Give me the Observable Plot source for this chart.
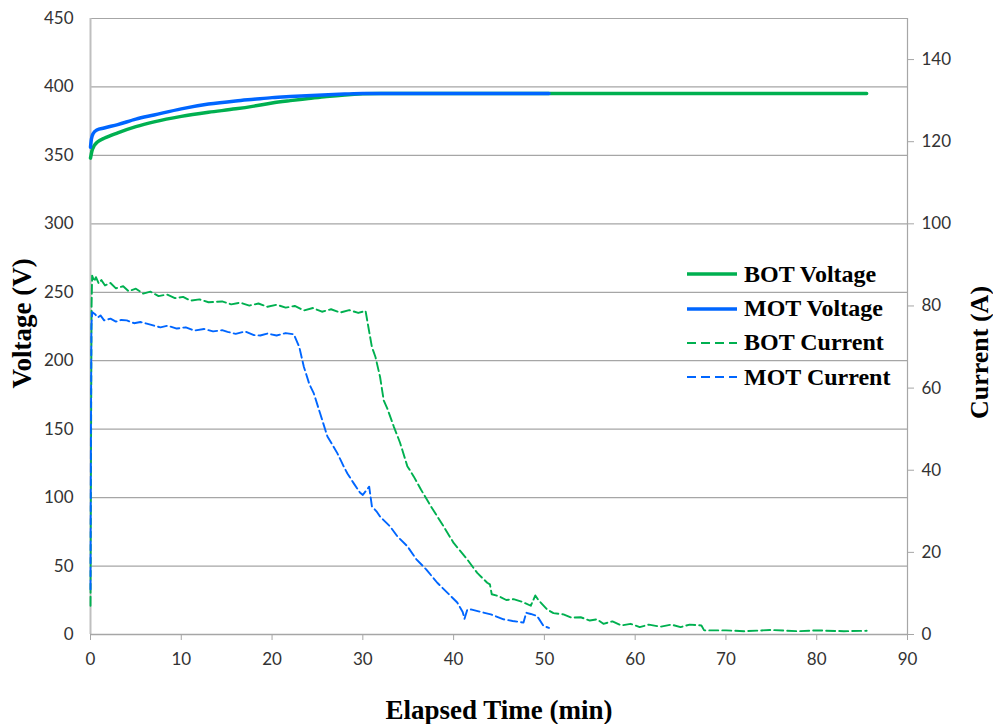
<!DOCTYPE html>
<html>
<head>
<meta charset="utf-8">
<script src="https://cdn.jsdelivr.net/npm/d3@7"></script>
<script src="https://cdn.jsdelivr.net/npm/@observablehq/plot@0.6"></script>
<style>
  body { margin: 0; background: #fff; }
  #wrap { position: relative; width: 993px; height: 724px; }
  #legend { position: absolute; left: 686px; top: 257px; font-family: "Liberation Serif", serif; font-weight: bold; font-size: 24px; color: #000; }
  #legend .row { display: flex; align-items: center; height: 34.4px; }
  #legend svg { margin-right: 6px; }
</style>
</head>
<body>
<div id="wrap"></div>
<script>
// BOT / MOT voltage: [minutes, volts]
const botVoltage = [[0,348],[0.15,353],[0.4,357],[0.8,360],[1.5,362.5],[3,366.5],[5,371],[7,374.5],[10,378.5],[13,381.5],[16,384],[18,386],[20,388.3],[22,390],[24,391.5],[26,393],[28,394.2],[30,395],[32,395.3],[45,395.3],[60,395.3],[75,395.3],[85.5,395.3]];
const motVoltage = [[0,356],[0.1,362],[0.3,366],[0.7,368.5],[1.5,370],[3,372.5],[5,376.5],[7,379.5],[10,384],[13,387.5],[16,389.8],[18,391],[20,392.2],[22,393],[25,394],[28,394.8],[30,395.2],[40,395.3],[50.5,395.3]];
// BOT / MOT current: [minutes, amps]
const botCurrent = [[0,7],[0.05,40],[0.12,80],[0.18,87.4],[0.4,86],[0.6,87],[0.9,85.5],[1.2,86.3],[1.6,85],[2.2,85.6],[2.8,84.3],[3.6,84.8],[4.2,83.6],[5,84.2],[5.8,83],[6.6,83.5],[7.5,82.4],[8.4,82.8],[9.3,81.9],[10.2,82.2],[11,81.3],[12,81.6],[13,80.9],[14.5,81.1],[15.5,80.4],[16.5,80.8],[17.5,80.1],[18.5,80.6],[19.5,79.8],[20.5,80.3],[21.5,79.6],[22.5,80],[23.5,78.9],[24.5,79.5],[25.5,78.6],[26.5,79.2],[27.5,78.4],[28.5,79],[29.5,78.3],[30.3,78.8],[30.6,75],[31,70],[31.4,67.5],[31.9,62.7],[32.3,57],[32.7,55],[33.4,50.7],[34.1,46.7],[34.9,41],[35.6,38.5],[36.4,35.3],[37.5,31.2],[38.9,26.3],[40,22.3],[41.5,18.3],[42.6,15],[43.7,12.6],[44,12.2],[44.2,9.8],[45,9.3],[45.8,8.4],[46.6,8.6],[47.5,8],[48.5,7],[49,9.5],[49.3,8.5],[50.3,6.1],[51,5.2],[52.1,4.9],[53,4.1],[54,4.2],[55,3.4],[55.8,3.7],[56.5,2.6],[57.5,3.2],[58.5,2.2],[59.5,2.6],[60.5,1.8],[61.5,2.4],[62.8,1.9],[64,2.4],[65,1.8],[66,2.4],[67.3,2.2],[67.6,1.0],[70,1.0],[72,0.8],[75,1.1],[78,0.8],[80,1.0],[83,0.8],[85.5,0.9]];
const motCurrent = [[0,11],[0.05,50],[0.1,75],[0.18,78.5],[0.5,78],[0.8,77.2],[1.1,77.7],[1.5,76.5],[2.2,76.9],[2.8,76.2],[3.4,76.6],[4,76.5],[4.8,75.8],[5.5,76.1],[6.2,75.7],[7,75.2],[7.7,74.8],[8.5,75.2],[9.5,74.5],[10.5,74.8],[11.4,74],[12.5,74.4],[13.5,73.8],[14.5,74.1],[15.1,73.7],[16,73.2],[17,73.8],[18,72.9],[18.7,72.8],[19.5,73.3],[20.5,72.8],[21.5,73.4],[22.4,73.1],[23,70],[23.5,65.2],[24.1,61],[24.6,58.7],[25.3,53.8],[26.1,48.2],[26.7,46],[27.2,44.1],[27.9,40.9],[28.3,39.2],[29,36.8],[29.7,34.5],[30,34],[30.7,36],[31,31.2],[31.5,30],[31.9,28.7],[33,26.3],[33.8,23.9],[34.9,21.5],[35.9,18.3],[37,15.8],[38.2,12.6],[39.3,10.2],[40.4,7.8],[41,5.5],[41.2,3.8],[41.5,6],[41.9,6.1],[43,5.5],[44.1,4.9],[45.5,3.7],[46.5,3.3],[47.7,2.9],[48,5.3],[48.5,5],[49.2,4.5],[49.9,2.1],[50.5,1.6]];

const voltageTicks = [0,50,100,150,200,250,300,350,400,450];
const currentTicks = [0,20,40,60,80,100,120,140];
const timeTicks = [0,10,20,30,40,50,60,70,80,90];
const seriesNames = ["BOT Voltage","MOT Voltage","BOT Current","MOT Current"];
const GREEN = "#00B050", BLUE = "#0066FF";
const ratio = 3; // 450 V <-> 150 A

const toObj = (arr) => arr.map(([t, v]) => ({t, v}));
const toObjI = (arr) => arr.map(([t, a]) => ({t, v: a * ratio}));

const titleStyle = {fontFamily: "Liberation Serif", fontWeight: "bold", fill: "#000", textAnchor: "middle", lineAnchor: "middle"};

const chart = Plot.plot({
  width: 993, height: 724,
  marginLeft: 90, marginRight: 86, marginTop: 18, marginBottom: 90,
  style: {fontFamily: "Lato, sans-serif", fontSize: "17px", color: "#333", background: "#fff"},
  x: {domain: [0, 90]},
  y: {domain: [0, 450]},
  marks: [
    Plot.gridY(voltageTicks.filter(d => d > 0), {stroke: "#a6a6a6", strokeOpacity: 1, strokeWidth: 1.2}),
    Plot.ruleX([0], {stroke: "#bfbfbf", strokeWidth: 2}),
    Plot.ruleX([90], {stroke: "#a6a6a6", strokeWidth: 1.2}),
    Plot.ruleY([0], {stroke: "#a6a6a6", strokeWidth: 1.5}),
    Plot.axisY({ticks: voltageTicks, tickSize: 0, tickPadding: 17, label: null}),
    Plot.axisY({anchor: "right", ticks: currentTicks.map(d => d * ratio), tickFormat: d => d / ratio, tickSize: 6, tickPadding: 8, stroke: "#a6a6a6", label: null}),
    Plot.axisX({ticks: timeTicks, tickSize: 6, tickPadding: 12, stroke: "#a6a6a6", label: null}),
    Plot.line(toObjI(botCurrent), {x: "t", y: "v", stroke: GREEN, strokeWidth: 1.9, strokeDasharray: "9,4"}),
    Plot.line(toObjI(motCurrent), {x: "t", y: "v", stroke: BLUE, strokeWidth: 1.9, strokeDasharray: "9,4"}),
    Plot.line(toObj(botVoltage), {x: "t", y: "v", stroke: GREEN, strokeWidth: 3.5, curve: "monotone-x"}),
    Plot.line(toObj(motVoltage), {x: "t", y: "v", stroke: BLUE, strokeWidth: 3.5, curve: "monotone-x"}),
    Plot.text(["Voltage (V)"], {...titleStyle, frameAnchor: "left", dx: -68, dy: -3, rotate: -90, fontSize: 27}),
    Plot.text(["Current (A)"], {...titleStyle, frameAnchor: "right", dx: 72, dy: 26, rotate: -90, fontSize: 26}),
    Plot.text(["Elapsed Time (min)"], {...titleStyle, frameAnchor: "bottom", dy: 76, fontSize: 27})
  ]
});
const wrap = document.getElementById("wrap");
wrap.appendChild(chart);

const legend = document.createElement("div");
legend.id = "legend";
const styles = [[GREEN, null, 3.5], [BLUE, null, 3.5], [GREEN, "9,5", 1.9], [BLUE, "9,5", 1.9]];
seriesNames.forEach((name, i) => {
  const [c, dash, w] = styles[i];
  const row = document.createElement("div");
  row.className = "row";
  row.innerHTML = `<svg width="52" height="10"><line x1="1" y1="5" x2="51" y2="5" stroke="${c}" stroke-width="${w}" ${dash ? `stroke-dasharray="${dash}"` : ""}/></svg><span>${name}</span>`;
  legend.appendChild(row);
});
wrap.appendChild(legend);
</script>
</body>
</html>
